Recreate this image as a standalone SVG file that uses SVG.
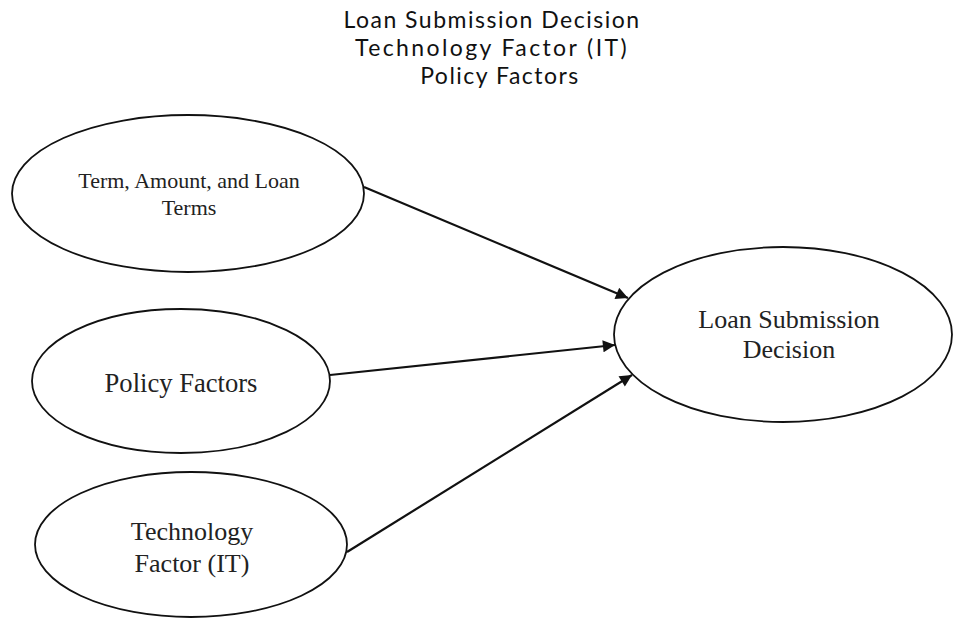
<svg xmlns="http://www.w3.org/2000/svg" width="956" height="618" viewBox="0 0 956 618">
<style>
.node ellipse{fill:#fff;stroke:#111;stroke-width:1.8}
.lbl{font-family:"Liberation Serif","Times New Roman",serif;fill:#222;text-anchor:middle}
.title{font-family:Lato,"Liberation Sans",sans-serif;font-size:23px;fill:#111;text-anchor:middle;letter-spacing:1.5px}
.edge{stroke:#111;stroke-width:2.2;fill:none;marker-end:url(#ah)}
</style>
<defs>
<marker id="ah" viewBox="0 0 10 10" refX="10" refY="5" markerWidth="6.5" markerHeight="5.5" markerUnits="strokeWidth" orient="auto">
<path d="M0,0 L10,5 L0,10 z" fill="#111"/>
</marker>
</defs>
<rect width="956" height="618" fill="#fff"/>
<g id="title">
<text class="title" x="492" y="28">Loan Submission Decision</text>
<text class="title" x="492" y="56" style="letter-spacing:2.4px">Technology Factor (IT)</text>
<text class="title" x="500" y="84">Policy Factors</text>
</g>
<g id="connectors">
<line class="edge" x1="364" y1="187" x2="628" y2="298"/>
<line class="edge" x1="330" y1="375" x2="615" y2="345"/>
<line class="edge" x1="347" y1="552" x2="632" y2="375"/>
</g>
<g id="node-term" class="node">
<ellipse cx="188" cy="193.5" rx="176" ry="78.5"/>
<text class="lbl" x="189" y="188" font-size="22">Term, Amount, and Loan</text>
<text class="lbl" x="189" y="215" font-size="22">Terms</text>
</g>
<g id="node-policy" class="node">
<ellipse cx="181" cy="381" rx="149" ry="72"/>
<text class="lbl" x="181" y="392" font-size="26.6">Policy Factors</text>
</g>
<g id="node-tech" class="node">
<ellipse cx="191" cy="544.5" rx="156" ry="72.5"/>
<text class="lbl" x="192" y="540" font-size="26">Technology</text>
<text class="lbl" x="192" y="572" font-size="26">Factor (IT)</text>
</g>
<g id="node-decision" class="node">
<ellipse cx="783" cy="334.5" rx="169" ry="87.5"/>
<text class="lbl" x="789" y="328" font-size="26">Loan Submission</text>
<text class="lbl" x="789" y="358" font-size="26">Decision</text>
</g>
</svg>
